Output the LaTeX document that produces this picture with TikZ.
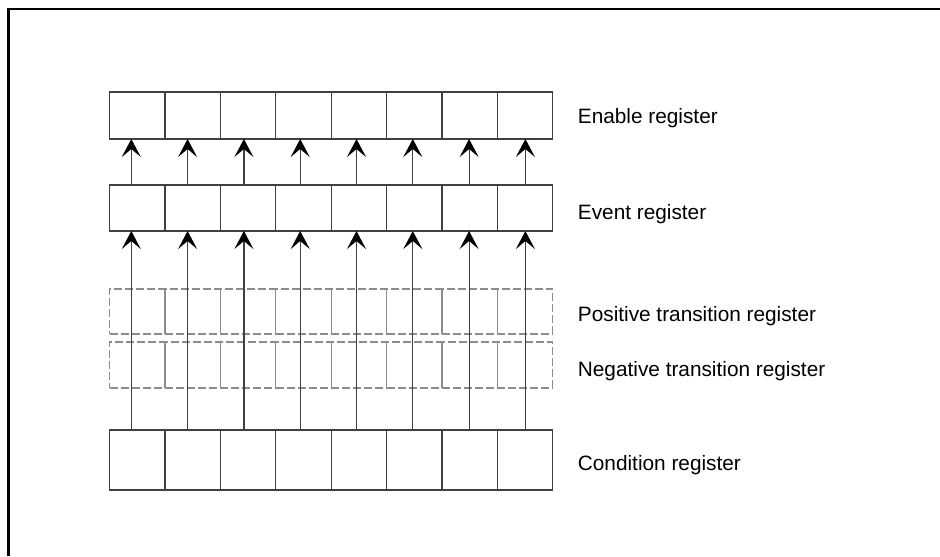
\documentclass[tikz,border=0pt]{standalone}
\usepackage{fontspec}
\setmainfont{Liberation Sans}
\usepackage{tikz}
\usetikzlibrary{arrows.meta}
\definecolor{RegLine}{HTML}{404040}
\definecolor{RegDash}{HTML}{8C8C8C}

\begin{document}
\begin{tikzpicture}[
    x=0.5pt, y=-0.5pt,
    cell/.style={draw=RegLine, line width=0.6pt, minimum width=27.7pt,
      inner sep=0pt, outer sep=0pt},
    ghost/.style={cell, draw=RegDash, dash pattern=on 4pt off 1.5pt},
    regname/.style={anchor=base west, inner sep=0pt, font=\fontsize{10.4}{12}\selectfont},
    arrow/.style={-{Stealth[length=9pt, width=9.5pt, inset=4pt, color=black]},
      line width=0.6pt, draw=RegLine}
  ]
    \useasboundingbox (0,0) rectangle (940,556);
    \draw[line width=1.25pt] (8.5,556) -- (8.5,9) -- (940,9);

    % register rows
    \foreach \i in {1,...,8} {
      \node[cell, minimum height=23.5pt] (en\i) at ({109.5+55.4*(\i-0.5)},115.5) {};
      \node[cell, minimum height=23pt] (ev\i) at ({109.5+55.4*(\i-0.5)},208) {};
      \node[ghost, minimum height=22.5pt] (pt\i) at ({109.5+55.4*(\i-0.5)},311.5) {};
      \node[ghost, minimum height=23pt] (nt\i) at ({109.5+55.4*(\i-0.5)},365) {};
      \node[cell, minimum height=30pt] (cd\i) at ({109.5+55.4*(\i-0.5)},460) {};
      \coordinate (col\i) at ({131.3+56.3*(\i-1)},0);
    }

    % bit arrows
    \foreach \i in {1,...,8} {
      \draw[arrow] (col\i |- cd\i.north) -- (col\i |- ev\i.south);
      \draw[arrow] (col\i |- ev\i.north) -- (col\i |- en\i.south);
    }

    \node[regname] (enname) at (577.5,123.3) {Enable register};
    \node[regname] (evname) at (577.5,219.3) {Event register};
    \node[regname] (ptname) at (577.5,321.7) {Positive transition register};
    \node[regname] (ntname) at (577.5,376.7) {Negative transition register};
    \node[regname] (cdname) at (577.5,470) {Condition register};
\end{tikzpicture}
\end{document}
